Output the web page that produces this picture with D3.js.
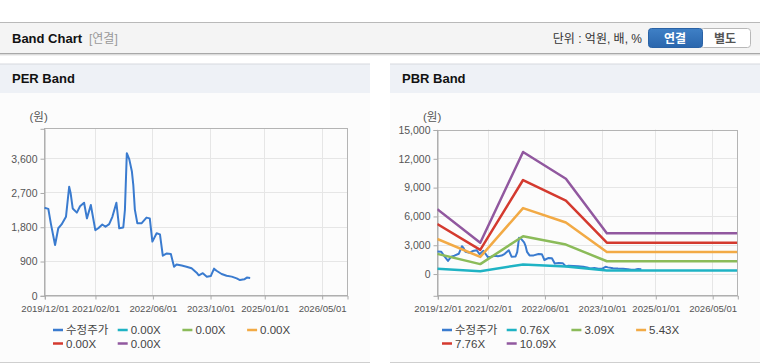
<!DOCTYPE html>
<html><head><meta charset="utf-8">
<script src="https://cdn.jsdelivr.net/npm/d3@7"></script>
<style>
html,body{margin:0;padding:0;background:#fff;}
svg{display:block;font-family:"Liberation Sans","Noto Sans CJK KR",sans-serif;}
</style></head>
<body>
<svg id="c" width="760" height="364"></svg>
<script>
// ---------- data ----------
const priceDates = ["2019-12-01","2020-01-04","2020-01-25","2020-03-01","2020-03-28","2020-04-25","2020-06-01","2020-06-28","2020-07-10","2020-07-28","2020-09-01","2020-09-28","2020-11-01","2020-11-25","2020-12-28","2021-02-04","2021-03-01","2021-04-04","2021-05-01","2021-06-01","2021-06-28","2021-08-01","2021-08-25","2021-09-28","2021-10-12","2021-10-28","2021-11-18","2021-12-10","2021-12-22","2022-01-04","2022-01-25","2022-03-01","2022-04-12","2022-05-10","2022-06-01","2022-07-07","2022-08-04","2022-08-28","2022-10-01","2022-11-04","2022-12-01","2022-12-22","2023-02-04","2023-03-16","2023-04-28","2023-06-10","2023-06-28","2023-08-01","2023-09-04","2023-10-07","2023-11-04","2023-11-25","2024-01-07","2024-02-18","2024-04-01","2024-05-13","2024-06-10","2024-07-16","2024-08-07","2024-09-04"];
const priceValues = [2300,2270,1890,1320,1760,1860,2060,2850,2690,2280,2170,2340,2430,2020,2370,1710,1760,1860,1800,1870,2060,2430,1760,1780,2240,3730,3570,3250,2890,2250,1890,1890,2040,2020,1410,1630,1600,1040,1100,1085,750,810,780,750,710,595,525,580,490,505,700,645,560,515,490,445,400,420,465,455];

const bandDates = ["2019-12-01","2020-12-01","2021-12-01","2022-12-01","2023-11-15","2026-12-01"];
const band076  = [505, 242, 954, 743, 315, 315];
const band309  = [2052, 983, 3878, 3022, 1282, 1282];
const band543  = [3606, 1727, 6815, 5311, 2253, 2253];
const band776  = [5153, 2468, 9739, 7589, 3220, 3220];
const band1009 = [6700, 3209, 12663, 9868, 4187, 4187];

const xTickDates = ["2019-12-01","2021-02-01","2022-06-01","2023-10-01","2025-01-01","2026-05-01"];
const xTickLabels = ["2019/12/01","2021/02/01","2022/06/01","2023/10/01","2025/01/01","2026/05/01"];
const perTicks = [0, 900, 1800, 2700, 3600];
const pbrTicks = [0, 3000, 6000, 9000, 12000, 15000];

const perLegend = ["수정주가","0.00X","0.00X","0.00X","0.00X","0.00X"];
const pbrLegend = ["수정주가","0.76X","3.09X","5.43X","7.76X","10.09X"];
const colors = ["#3a7bcf","#1fb3c4","#8bbb59","#f2aa45","#d43a2f","#91589f"];

// ---------- page chrome ----------
const svg = d3.select("#c");
const parse = d3.timeParse("%Y-%m-%d");

svg.append("rect").attr("x",0).attr("y",22).attr("width",760).attr("height",31).attr("fill","#f4f4f4");
svg.append("line").attr("x1",0).attr("x2",760).attr("y1",22.5).attr("y2",22.5).attr("stroke","#b9b9b9");
svg.append("line").attr("x1",0).attr("x2",760).attr("y1",53.5).attr("y2",53.5).attr("stroke","#a8a8a8");
svg.append("line").attr("x1",0).attr("x2",760).attr("y1",54.5).attr("y2",54.5).attr("stroke","#dcdcdc");
svg.append("line").attr("x1",0).attr("x2",760).attr("y1",55.5).attr("y2",55.5).attr("stroke","#f0f0f0");
svg.append("text").attr("x",12).attr("y",43).attr("font-size",13).attr("font-weight","bold").attr("fill","#111").text("Band Chart");
svg.append("text").attr("x",89).attr("y",43).attr("font-size",12).attr("fill","#999").text("[연결]");
svg.append("text").attr("x",642).attr("y",43).attr("text-anchor","end").attr("font-size",12).attr("fill","#333").text("단위 : 억원, 배, %");

// buttons
const grad = svg.append("defs").append("linearGradient").attr("id","bg").attr("x1",0).attr("x2",0).attr("y1",0).attr("y2",1);
grad.append("stop").attr("offset","0").attr("stop-color","#3f80c6");
grad.append("stop").attr("offset","1").attr("stop-color","#2a66ad");
svg.append("rect").attr("x",700.5).attr("y",28.5).attr("width",50).attr("height",19).attr("rx",3).attr("fill","#fff").attr("stroke","#b8b8b8");
svg.append("rect").attr("x",648.5).attr("y",28.5).attr("width",54).attr("height",19).attr("rx",3).attr("fill","url(#bg)").attr("stroke","#2a62a5");
svg.append("text").attr("x",675).attr("y",42.5).attr("text-anchor","middle").attr("font-size",12).attr("font-weight","bold").attr("fill","#fff").text("연결");
svg.append("text").attr("x",725).attr("y",42.5).attr("text-anchor","middle").attr("font-size",12).attr("font-weight","bold").attr("fill","#555").text("별도");

// panels
function panel(x0, w, title) {
  svg.append("rect").attr("x",x0).attr("y",64).attr("width",w).attr("height",298).attr("fill","#fcfcfc");
  svg.append("rect").attr("x",x0).attr("y",64).attr("width",w).attr("height",29).attr("fill","#eef1f6");
  svg.append("line").attr("x1",x0).attr("x2",x0+w).attr("y1",64).attr("y2",64).attr("stroke","#d6d9de");
  svg.append("line").attr("x1",x0).attr("x2",x0+w).attr("y1",362.5).attr("y2",362.5).attr("stroke","#cfcfcf");
  svg.append("text").attr("x",x0+12).attr("y",83).attr("font-size",13).attr("font-weight","bold").attr("fill","#111").text(title);
}
panel(0, 370, "PER Band");
panel(390, 370, "PBR Band");

// ---------- charts ----------
function chart(cfg) {
  const g = svg.append("g");
  const x = d3.scaleTime().domain([parse("2019-12-01"), parse("2026-12-01")]).range([cfg.left, cfg.right]);
  const y = d3.scaleLinear().domain(cfg.yDomain).range([cfg.bottom, cfg.top]);
  // grid
  g.append("g").selectAll("line").data(cfg.yTicks).join("line")
    .attr("x1",cfg.left).attr("x2",cfg.right)
    .attr("y1",d=>Math.round(y(d))+0.5).attr("y2",d=>Math.round(y(d))+0.5)
    .attr("stroke","#e6e6e6");
  g.append("g").selectAll("line").data(xTickDates).join("line")
    .attr("x1",d=>Math.round(x(parse(d)))+0.5).attr("x2",d=>Math.round(x(parse(d)))+0.5)
    .attr("y1",cfg.top).attr("y2",cfg.bottom)
    .attr("stroke","#e6e6e6");
  // frame
  g.append("rect").attr("x",Math.round(cfg.left)+0.5).attr("y",Math.round(cfg.top)+0.5)
    .attr("width",Math.round(cfg.right)-Math.round(cfg.left)).attr("height",Math.round(cfg.bottom)-Math.round(cfg.top))
    .attr("fill","none").attr("stroke","#b4b4b4");
  // axes
  const yAxis = d3.axisLeft(y).tickValues(cfg.yTicks).tickSize(4).tickPadding(3).tickFormat(d3.format(","));
  const ya = g.append("g").attr("transform",`translate(${Math.round(cfg.left)+0.5},0.5)`).call(yAxis);
  ya.select(".domain").attr("stroke","#aaa");
  ya.selectAll(".tick line").attr("stroke","#aaa");
  ya.selectAll("text").attr("font-size",10.5).attr("fill","#555").attr("font-family","Liberation Sans, sans-serif");
  const xAxis = d3.axisBottom(x).tickValues(xTickDates.map(parse)).tickSize(4).tickPadding(6)
    .tickFormat((d,i)=>xTickLabels[i]);
  const xa = g.append("g").attr("transform",`translate(0.5,${Math.round(cfg.bottom)+0.5})`).call(xAxis);
  xa.select(".domain").attr("stroke","#aaa");
  xa.selectAll(".tick line").attr("stroke","#aaa");
  xa.selectAll("text").attr("font-size",9.6).attr("fill","#555").attr("font-family","Liberation Sans, sans-serif");
  g.append("text").attr("x",cfg.unitX).attr("y",121).attr("font-size",11.5).attr("fill","#555").text("(원)");

  const clip = "clip" + cfg.id;
  svg.append("clipPath").attr("id",clip).append("rect")
    .attr("x",cfg.left).attr("y",cfg.top).attr("width",cfg.right-cfg.left).attr("height",cfg.bottom-cfg.top);
  const lines = g.append("g").attr("clip-path",`url(#${clip})`);
  const line = d3.line().x(d=>x(d[0])).y(d=>y(d[1]));
  cfg.series.forEach(s => {
    lines.append("path").datum(s.dates.map((d,i)=>[parse(d), s.values[i]]))
      .attr("d", line).attr("fill","none").attr("stroke", s.color)
      .attr("stroke-width", s.width).attr("stroke-linejoin","round");
  });

  // legend
  const lg = g.append("g");
  cfg.legend.forEach((t,i) => {
    const col = i % 4, row = Math.floor(i / 4);
    const lx = cfg.legendX + col * 64.7, ly = 330 + row * 13.5;
    lg.append("line").attr("x1",lx).attr("x2",lx+10).attr("y1",ly).attr("y2",ly)
      .attr("stroke",colors[i]).attr("stroke-width",2.5);
    lg.append("text").attr("x",lx+13).attr("y",ly+4).attr("font-size",i===0?11.5:11.5).attr("fill","#444").text(t);
  });
}

chart({
  id:"per", left:44.3, right:347, top:128.3, bottom:295.3, yDomain:[0,4385], yTicks:perTicks, unitX:29.5,
  legendX:53,
  legend: perLegend,
  series:[{dates:priceDates, values:priceValues, color:colors[0], width:2}]
});

chart({
  id:"pbr", left:437.3, right:737.3, top:129.5, bottom:295.3, yDomain:[-2264,15000], yTicks:pbrTicks, unitX:423,
  legendX:442,
  legend: pbrLegend,
  series:[
    {dates:priceDates, values:priceValues, color:colors[0], width:2},
    {dates:bandDates, values:band076, color:colors[1], width:2.5},
    {dates:bandDates, values:band309, color:colors[2], width:2.5},
    {dates:bandDates, values:band543, color:colors[3], width:2.5},
    {dates:bandDates, values:band776, color:colors[4], width:2.5},
    {dates:bandDates, values:band1009, color:colors[5], width:2.5}
  ]
});
</script>
</body></html>
